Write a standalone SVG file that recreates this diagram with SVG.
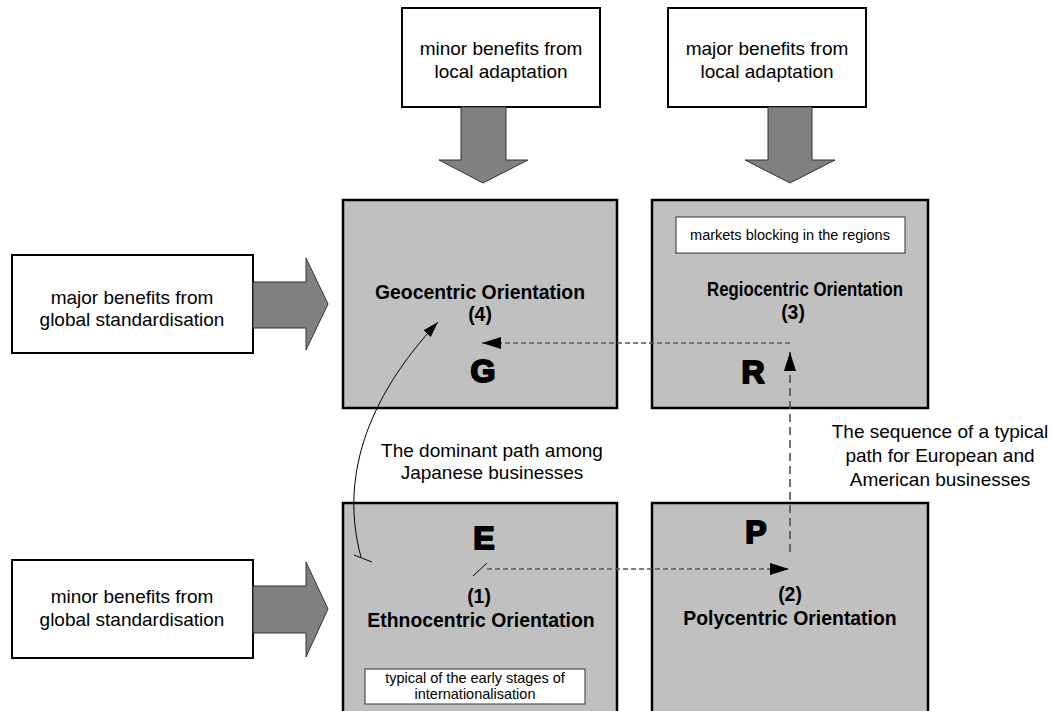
<svg xmlns="http://www.w3.org/2000/svg" width="1054" height="711" viewBox="0 0 1054 711">
<style>
.wbox{fill:#fff;stroke:#000;stroke-width:2}
.mbox{fill:#c0c0c0;stroke:#000;stroke-width:2.5}
.sbox{fill:#fff;stroke:#333;stroke-width:1}
.big{fill:#808080;stroke:#333;stroke-width:1}
.t{font-family:"Liberation Sans",Arial,sans-serif;font-size:19px;fill:#000;text-anchor:middle}
.tb{font-family:"Liberation Sans",Arial,sans-serif;font-size:19.4px;font-weight:bold;fill:#000;text-anchor:middle}
.ts{font-family:"Liberation Sans",Arial,sans-serif;font-size:14.5px;fill:#000;text-anchor:middle}
.L{font-family:"Liberation Sans",Arial,sans-serif;font-size:32px;font-weight:bold;fill:#000;stroke:#000;stroke-width:2;stroke-linejoin:round;text-anchor:middle}
.dh{fill:none;stroke:#555;stroke-width:1.5;stroke-dasharray:5,3}
.dv{fill:none;stroke:#444;stroke-width:1.5;stroke-dasharray:8,5}
</style>
<defs>
<marker id="ah" markerUnits="userSpaceOnUse" markerWidth="20" markerHeight="14" refX="19" refY="6" orient="auto"><path d="M0,0 L19,6 L0,12 z" fill="#000"/></marker>
<marker id="ac" markerUnits="userSpaceOnUse" markerWidth="18" markerHeight="12" refX="16" refY="5" orient="auto"><path d="M0,0 L16,5 L0,10 z" fill="#000"/></marker>
</defs>

<g id="top-minor-local">
<rect class="wbox" x="402" y="8" width="198" height="99"/>
<text class="t" x="501" y="55">minor benefits from</text>
<text class="t" x="501" y="78">local adaptation</text>
</g>
<g id="top-major-local">
<rect class="wbox" x="668" y="8" width="198" height="99"/>
<text class="t" x="767" y="55">major benefits from</text>
<text class="t" x="767" y="78">local adaptation</text>
</g>
<g id="left-major-global">
<rect class="wbox" x="12" y="255" width="241" height="98"/>
<text class="t" x="132" y="304">major benefits from</text>
<text class="t" x="132" y="326">global standardisation</text>
</g>
<g id="left-minor-global">
<rect class="wbox" x="12" y="560" width="241" height="98"/>
<text class="t" x="132" y="603">minor benefits from</text>
<text class="t" x="132" y="626">global standardisation</text>
</g>

<g id="big-arrows">
<path class="big" d="M461,107 L506,107 L506,160 L528,160 L483,183 L439,160 L461,160 Z"/>
<path class="big" d="M768,107 L812,107 L812,160 L835,160 L790,183 L745,160 L768,160 Z"/>
<path class="big" d="M253,282 L306,282 L306,258 L328,304 L306,350 L306,328 L253,328 Z"/>
<path class="big" d="M253,586 L306,586 L306,562 L328,609 L306,657 L306,633 L253,633 Z"/>
</g>

<g id="geocentric">
<rect class="mbox" x="343" y="200" width="274" height="208"/>
<text class="tb" x="480" y="299">Geocentric Orientation</text>
<text class="tb" x="480" y="321">(4)</text>
<text class="L" x="483" y="382">G</text>
</g>
<g id="regiocentric">
<rect class="mbox" x="652" y="200" width="276" height="208"/>
<rect class="sbox" x="676" y="217" width="229" height="36"/>
<text class="ts" x="790" y="240">markets blocking in the regions</text>
<text class="tb" x="805" y="296" textLength="196" lengthAdjust="spacingAndGlyphs">Regiocentric Orientation</text>
<text class="tb" x="793" y="319">(3)</text>
<text class="L" x="753" y="383">R</text>
</g>
<g id="ethnocentric">
<rect class="mbox" x="343" y="503" width="274" height="212"/>
<text class="L" x="484" y="549">E</text>
<text class="tb" x="479" y="603">(1)</text>
<text class="tb" x="481" y="627">Ethnocentric Orientation</text>
<rect class="sbox" x="365" y="669" width="220" height="35"/>
<text class="ts" x="475" y="683">typical of the early stages of</text>
<text class="ts" x="475" y="699">internationalisation</text>
</g>
<g id="polycentric">
<rect class="mbox" x="652" y="503" width="276" height="212"/>
<text class="L" x="756" y="543">P</text>
<text class="tb" x="790" y="601">(2)</text>
<text class="tb" x="790" y="625">Polycentric Orientation</text>
</g>

<g id="connectors">
<line class="dh" x1="487" y1="569" x2="789" y2="569" marker-end="url(#ah)"/>
<line x1="473" y1="576" x2="487" y2="563" stroke="#000" stroke-width="1"/>
<line class="dv" x1="790" y1="552" x2="790" y2="352" marker-end="url(#ah)"/>
<line class="dh" x1="790" y1="343" x2="482" y2="343" marker-end="url(#ah)"/>
<path d="M361,557 C340,480 365,400 438,322" fill="none" stroke="#000" stroke-width="1" marker-end="url(#ac)"/>
<line x1="354" y1="555" x2="372" y2="562" stroke="#000" stroke-width="1"/>
</g>

<g id="labels">
<text class="t" x="492" y="457">The dominant path among</text>
<text class="t" x="492" y="479">Japanese businesses</text>
<text class="t" x="940" y="438">The sequence of a typical</text>
<text class="t" x="940" y="462">path for European and</text>
<text class="t" x="940" y="486">American businesses</text>
</g>
</svg>
